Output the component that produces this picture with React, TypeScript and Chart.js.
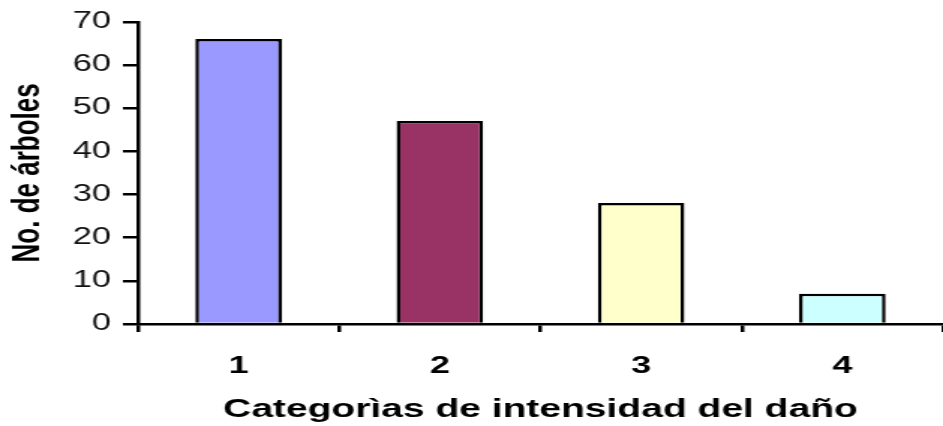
import React, { useEffect, useRef } from 'react';
import { Chart, registerables } from 'chart.js';

Chart.register(...registerables);

const categories = ['1', '2', '3', '4'];
const treeCounts = [66, 47, 28, 7];
const barColors = ['#9999FF', '#993366', '#FFFFCC', '#CCFFFF'];
const yTickValues = [0, 10, 20, 30, 40, 50, 60, 70];
const xTitle = 'Categorìas de intensidad del daño';
const yTitle = 'No. de árboles';

// The reference image is horizontally stretched; draw narrower and stretch with CSS.
const DRAW_W = 629;
const DRAW_H = 426;
const SHOW_W = 943;

export default function App() {
  const ref = useRef<HTMLCanvasElement>(null);

  useEffect(() => {
    const canvas = ref.current;
    if (!canvas) return;
    const chart = new Chart(canvas, {
      type: 'bar',
      data: {
        labels: categories,
        datasets: [
          {
            data: treeCounts,
            backgroundColor: barColors,
            borderColor: '#000000',
            borderWidth: 2.5,
            barPercentage: 0.43,
            categoryPercentage: 1,
          },
        ],
      },
      options: {
        responsive: false,
        animation: false,
        layout: { padding: { top: 19, right: 0, left: 0, bottom: 0 } },
        plugins: { legend: { display: false }, tooltip: { enabled: false } },
        scales: {
          x: {
            grid: {
              drawOnChartArea: false,
              drawTicks: true,
              tickLength: 8,
              color: '#000000',
              lineWidth: 2.5,
            },
            border: { display: true, color: '#000000', width: 2.5 },
            ticks: {
              font: { family: 'Liberation Sans', size: 24, weight: 'bold' },
              color: '#000000',
              padding: 20,
              maxRotation: 0,
            },
            title: {
              display: true,
              text: xTitle,
              font: { family: 'Liberation Sans', size: 26, weight: 'bold' },
              color: '#000000',
              padding: { top: 4, bottom: 1 },
            },
            afterFit: (s: any) => {
              s.height = 102;
            },
          },
          y: {
            min: 0,
            max: 70,
            afterBuildTicks: (s: any) => {
              s.ticks = yTickValues.map((v) => ({ value: v }));
            },
            grid: {
              drawOnChartArea: false,
              drawTicks: true,
              tickLength: 10,
              color: '#000000',
              lineWidth: 2.5,
            },
            border: { display: true, color: '#000000', width: 2.5 },
            ticks: {
              font: { family: 'Liberation Sans', size: 23 },
              color: '#111111',
              padding: 8,
            },
            title: {
              display: true,
              text: yTitle,
              font: { family: 'Liberation Sans', size: 26, weight: 'bold' },
              color: '#000000',
              padding: { top: 3, bottom: 0 },
            },
            afterFit: (s: any) => {
              s.width = 92;
            },
          },
        },
      },
    });
    return () => chart.destroy();
  }, []);

  return (
    <div
      style={{
        position: 'fixed',
        left: 0,
        top: 0,
        width: SHOW_W,
        height: DRAW_H,
        background: '#ffffff',
      }}
    >
      <canvas
        ref={ref}
        width={DRAW_W}
        height={DRAW_H}
        style={{ width: SHOW_W + 'px', height: DRAW_H + 'px', display: 'block' }}
      />
    </div>
  );
}
